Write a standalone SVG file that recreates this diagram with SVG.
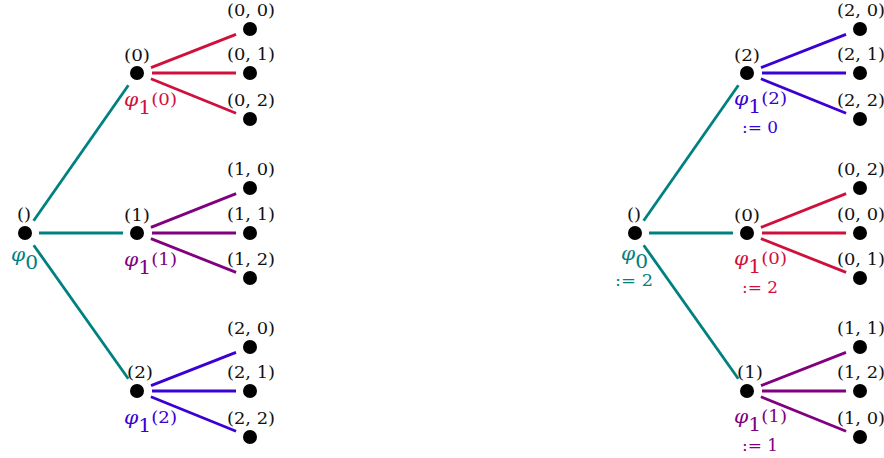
<svg xmlns="http://www.w3.org/2000/svg" width="884" height="458" viewBox="0 0 884 458">
<style>
  .dot { fill: #000; }
  .e { stroke-width: 2.8; stroke-linecap: butt; fill: none; }
  .teal { stroke: #008080; }
  .red { stroke: #D0103C; }
  .pur { stroke: #800080; }
  .blu { stroke: #3A00D4; }
  text { font-family: "DejaVu Serif", "Liberation Serif", serif; }
  .lbl { font-size: 16px; fill: #111; text-anchor: middle; }
  .phi { font-style: italic; font-size: 18px; }
  .sub { font-size: 18px; }
  .sup { font-size: 16px; }
  .asg { font-size: 17px; text-anchor: middle; }
  .tTeal { fill: #008080; }
  .tRed { fill: #D0103C; }
  .tPur { fill: #800080; }
  .tBlu { fill: #3A00D4; }
</style>
<g id="connectors">
  <line class="e teal" x1="33.6" y1="220.7" x2="128.4" y2="85.3"/>
  <line class="e teal" x1="39" y1="233" x2="123" y2="233"/>
  <line class="e teal" x1="33.7" y1="245.2" x2="128.3" y2="378.8"/>
  <line class="e red" x1="151" y1="67.6" x2="236" y2="34.4"/>
  <line class="e red" x1="152" y1="73" x2="236" y2="73"/>
  <line class="e red" x1="150.9" y1="78.7" x2="236.1" y2="113.3"/>
  <line class="e pur" x1="150.9" y1="227.4" x2="236.1" y2="193.6"/>
  <line class="e pur" x1="152" y1="233" x2="236" y2="233"/>
  <line class="e pur" x1="150.9" y1="238.6" x2="236.1" y2="272.4"/>
  <line class="e blu" x1="151" y1="385.6" x2="236" y2="352.4"/>
  <line class="e blu" x1="152" y1="391" x2="236" y2="391"/>
  <line class="e blu" x1="150.9" y1="396.7" x2="236.1" y2="431.3"/>
  <line class="e teal" x1="643.6" y1="220.7" x2="738.4" y2="85.3"/>
  <line class="e teal" x1="649" y1="233" x2="733" y2="233"/>
  <line class="e teal" x1="643.7" y1="245.2" x2="738.3" y2="378.8"/>
  <line class="e blu" x1="761" y1="67.6" x2="846" y2="34.4"/>
  <line class="e blu" x1="762" y1="73" x2="846" y2="73"/>
  <line class="e blu" x1="760.9" y1="78.7" x2="846.1" y2="113.3"/>
  <line class="e red" x1="760.9" y1="227.4" x2="846.1" y2="193.6"/>
  <line class="e red" x1="762" y1="233" x2="846" y2="233"/>
  <line class="e red" x1="760.9" y1="238.6" x2="846.1" y2="272.4"/>
  <line class="e pur" x1="761" y1="385.6" x2="846" y2="352.4"/>
  <line class="e pur" x1="762" y1="391" x2="846" y2="391"/>
  <line class="e pur" x1="760.9" y1="396.7" x2="846.1" y2="431.3"/>
</g>

<!-- LEFT TREE -->
<g id="L-root">
  <circle class="dot" cx="25" cy="233" r="7"/>
  <text class="lbl" x="24" y="220" textLength="14" lengthAdjust="spacingAndGlyphs">()</text>
  <text class="tTeal" x="11" y="261" textLength="27" lengthAdjust="spacingAndGlyphs"><tspan class="phi">φ</tspan><tspan class="sub" dy="8">0</tspan></text>
</g>
<g id="L-n0">
  <circle class="dot" cx="137" cy="73" r="7"/>
  <text class="lbl" x="137" y="61" textLength="26" lengthAdjust="spacingAndGlyphs">(0)</text>
  <text class="tRed" x="124" y="106" textLength="53" lengthAdjust="spacingAndGlyphs"><tspan class="phi">φ</tspan><tspan class="sub" dy="8">1</tspan><tspan class="sup" dy="-9">(0)</tspan></text>
</g>
<g id="L-n1">
  <circle class="dot" cx="137" cy="233" r="7"/>
  <text class="lbl" x="137" y="221" textLength="26" lengthAdjust="spacingAndGlyphs">(1)</text>
  <text class="tPur" x="124" y="266" textLength="53" lengthAdjust="spacingAndGlyphs"><tspan class="phi">φ</tspan><tspan class="sub" dy="8">1</tspan><tspan class="sup" dy="-9">(1)</tspan></text>
</g>
<g id="L-n2">
  <circle class="dot" cx="137" cy="391" r="7"/>
  <text class="lbl" x="140" y="378" textLength="26" lengthAdjust="spacingAndGlyphs">(2)</text>
  <text class="tBlu" x="124" y="424" textLength="53" lengthAdjust="spacingAndGlyphs"><tspan class="phi">φ</tspan><tspan class="sub" dy="8">1</tspan><tspan class="sup" dy="-9">(2)</tspan></text>
</g>
<g id="L-00"><circle class="dot" cx="250" cy="29" r="7"/><text class="lbl" x="251" y="16" textLength="48" lengthAdjust="spacingAndGlyphs">(0, 0)</text></g>
<g id="L-01"><circle class="dot" cx="250" cy="73" r="7"/><text class="lbl" x="251" y="60" textLength="48" lengthAdjust="spacingAndGlyphs">(0, 1)</text></g>
<g id="L-02"><circle class="dot" cx="250" cy="119" r="7"/><text class="lbl" x="251" y="106" textLength="48" lengthAdjust="spacingAndGlyphs">(0, 2)</text></g>
<g id="L-10"><circle class="dot" cx="250" cy="188" r="7"/><text class="lbl" x="251" y="175" textLength="48" lengthAdjust="spacingAndGlyphs">(1, 0)</text></g>
<g id="L-11"><circle class="dot" cx="250" cy="233" r="7"/><text class="lbl" x="251" y="220" textLength="48" lengthAdjust="spacingAndGlyphs">(1, 1)</text></g>
<g id="L-12"><circle class="dot" cx="250" cy="278" r="7"/><text class="lbl" x="251" y="265" textLength="48" lengthAdjust="spacingAndGlyphs">(1, 2)</text></g>
<g id="L-20"><circle class="dot" cx="250" cy="347" r="7"/><text class="lbl" x="251" y="334" textLength="48" lengthAdjust="spacingAndGlyphs">(2, 0)</text></g>
<g id="L-21"><circle class="dot" cx="250" cy="391" r="7"/><text class="lbl" x="251" y="378" textLength="48" lengthAdjust="spacingAndGlyphs">(2, 1)</text></g>
<g id="L-22"><circle class="dot" cx="250" cy="437" r="7"/><text class="lbl" x="251" y="424" textLength="48" lengthAdjust="spacingAndGlyphs">(2, 2)</text></g>

<!-- RIGHT TREE -->
<g id="R-root">
  <circle class="dot" cx="635" cy="233" r="7"/>
  <text class="lbl" x="634" y="220" textLength="14" lengthAdjust="spacingAndGlyphs">()</text>
  <text class="tTeal" x="621" y="260" textLength="27" lengthAdjust="spacingAndGlyphs"><tspan class="phi">φ</tspan><tspan class="sub" dy="8">0</tspan></text>
  <text class="tTeal asg" x="634" y="286" textLength="38" lengthAdjust="spacingAndGlyphs">:= 2</text>
</g>
<g id="R-n2">
  <circle class="dot" cx="747" cy="73" r="7"/>
  <text class="lbl" x="747" y="61" textLength="26" lengthAdjust="spacingAndGlyphs">(2)</text>
  <text class="tBlu" x="734" y="105" textLength="53" lengthAdjust="spacingAndGlyphs"><tspan class="phi">φ</tspan><tspan class="sub" dy="8">1</tspan><tspan class="sup" dy="-9">(2)</tspan></text>
  <text class="tBlu asg" x="760" y="133" textLength="36" lengthAdjust="spacingAndGlyphs">:= 0</text>
</g>
<g id="R-n0">
  <circle class="dot" cx="747" cy="233" r="7"/>
  <text class="lbl" x="747" y="221" textLength="26" lengthAdjust="spacingAndGlyphs">(0)</text>
  <text class="tRed" x="734" y="265" textLength="53" lengthAdjust="spacingAndGlyphs"><tspan class="phi">φ</tspan><tspan class="sub" dy="8">1</tspan><tspan class="sup" dy="-9">(0)</tspan></text>
  <text class="tRed asg" x="760" y="293" textLength="36" lengthAdjust="spacingAndGlyphs">:= 2</text>
</g>
<g id="R-n1">
  <circle class="dot" cx="747" cy="391" r="7"/>
  <text class="lbl" x="750" y="378" textLength="26" lengthAdjust="spacingAndGlyphs">(1)</text>
  <text class="tPur" x="734" y="423" textLength="53" lengthAdjust="spacingAndGlyphs"><tspan class="phi">φ</tspan><tspan class="sub" dy="8">1</tspan><tspan class="sup" dy="-9">(1)</tspan></text>
  <text class="tPur asg" x="760" y="451" textLength="36" lengthAdjust="spacingAndGlyphs">:= 1</text>
</g>
<g id="R-20"><circle class="dot" cx="860" cy="29" r="7"/><text class="lbl" x="861" y="16" textLength="48" lengthAdjust="spacingAndGlyphs">(2, 0)</text></g>
<g id="R-21"><circle class="dot" cx="860" cy="73" r="7"/><text class="lbl" x="861" y="60" textLength="48" lengthAdjust="spacingAndGlyphs">(2, 1)</text></g>
<g id="R-22"><circle class="dot" cx="860" cy="119" r="7"/><text class="lbl" x="861" y="106" textLength="48" lengthAdjust="spacingAndGlyphs">(2, 2)</text></g>
<g id="R-02"><circle class="dot" cx="860" cy="188" r="7"/><text class="lbl" x="861" y="175" textLength="48" lengthAdjust="spacingAndGlyphs">(0, 2)</text></g>
<g id="R-00"><circle class="dot" cx="860" cy="233" r="7"/><text class="lbl" x="861" y="220" textLength="48" lengthAdjust="spacingAndGlyphs">(0, 0)</text></g>
<g id="R-01"><circle class="dot" cx="860" cy="278" r="7"/><text class="lbl" x="861" y="265" textLength="48" lengthAdjust="spacingAndGlyphs">(0, 1)</text></g>
<g id="R-11"><circle class="dot" cx="860" cy="347" r="7"/><text class="lbl" x="861" y="334" textLength="48" lengthAdjust="spacingAndGlyphs">(1, 1)</text></g>
<g id="R-12"><circle class="dot" cx="860" cy="391" r="7"/><text class="lbl" x="861" y="378" textLength="48" lengthAdjust="spacingAndGlyphs">(1, 2)</text></g>
<g id="R-10"><circle class="dot" cx="860" cy="437" r="7"/><text class="lbl" x="861" y="424" textLength="48" lengthAdjust="spacingAndGlyphs">(1, 0)</text></g>
</svg>
